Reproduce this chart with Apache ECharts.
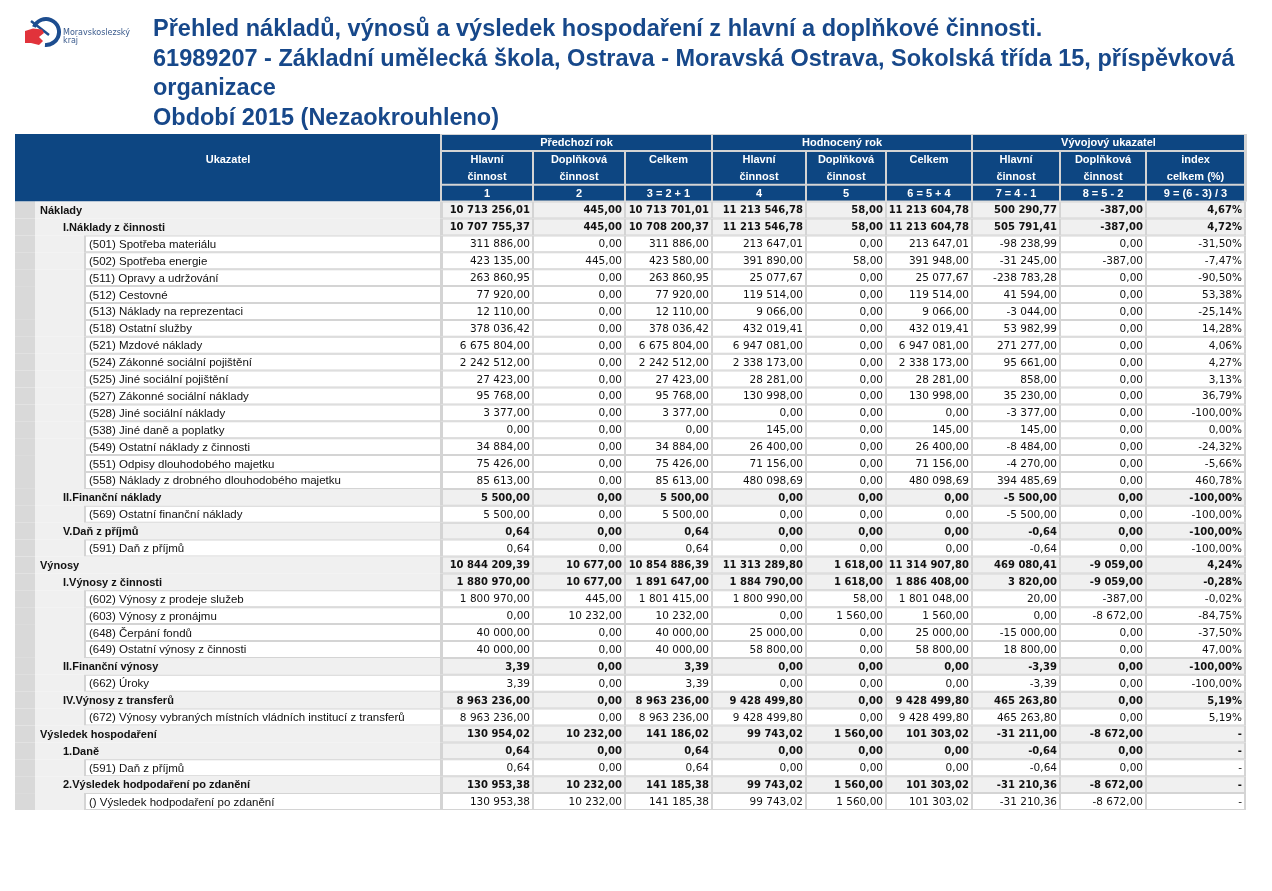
<!DOCTYPE html>
<html><head><meta charset="utf-8">
<script src="https://cdn.jsdelivr.net/npm/echarts@6/dist/echarts.min.js"></script>
<style>html,body{margin:0;padding:0;background:#fff}#c{width:1272px;height:891px}</style>
</head><body><div id="c"></div>
<script>
// ---------- texts ----------
const titleLines = [
  'Přehled nákladů, výnosů a výsledek hospodaření z hlavní a doplňkové činnosti.',
  '61989207 - Základní umělecká škola, Ostrava - Moravská Ostrava, Sokolská třída 15, příspěvková',
  'organizace',
  'Období 2015 (Nezaokrouhleno)'
];
const groupHeaders = ['Předchozí rok', 'Hodnocený rok', 'Vývojový ukazatel'];
const subHeaderTop = ['Hlavní', 'Doplňková', 'Celkem', 'Hlavní', 'Doplňková', 'Celkem', 'Hlavní', 'Doplňková', 'index'];
const subHeaderBottom = ['činnost', 'činnost', '', 'činnost', 'činnost', '', 'činnost', 'činnost', 'celkem (%)'];
const columnNumbers = ['1', '2', '3 = 2 + 1', '4', '5', '6 = 5 + 4', '7 = 4 - 1', '8 = 5 - 2', '9 = (6 - 3) / 3'];

// ---------- rows ----------
const rowLabels = [
  'Náklady', 'I.Náklady z činnosti',
  '(501) Spotřeba materiálu', '(502) Spotřeba energie', '(511) Opravy a udržování', '(512) Cestovné',
  '(513) Náklady na reprezentaci', '(518) Ostatní služby', '(521) Mzdové náklady',
  '(524) Zákonné sociální pojištění', '(525) Jiné sociální pojištění', '(527) Zákonné sociální náklady',
  '(528) Jiné sociální náklady', '(538) Jiné daně a poplatky', '(549) Ostatní náklady z činnosti',
  '(551) Odpisy dlouhodobého majetku', '(558) Náklady z drobného dlouhodobého majetku',
  'II.Finanční náklady', '(569) Ostatní finanční náklady',
  'V.Daň z příjmů', '(591) Daň z příjmů',
  'Výnosy', 'I.Výnosy z činnosti',
  '(602) Výnosy z prodeje služeb', '(603) Výnosy z pronájmu', '(648) Čerpání fondů', '(649) Ostatní výnosy z činnosti',
  'II.Finanční výnosy', '(662) Úroky',
  'IV.Výnosy z transferů', '(672) Výnosy vybraných místních vládních institucí z transferů',
  'Výsledek hospodaření', '1.Daně', '(591) Daň z příjmů',
  '2.Výsledek hodpodaření po zdanění', '() Výsledek hodpodaření po zdanění'
];
const rowLevels = [0,1,2,2,2,2,2,2,2,2,2,2,2,2,2,2,2,1,2,1,2,0,1,2,2,2,2,1,2,1,2,0,1,2,1,2];

const prevMain = [10713256.01,10707755.37,311886.00,423135.00,263860.95,77920.00,12110.00,378036.42,6675804.00,2242512.00,27423.00,95768.00,3377.00,0.00,34884.00,75426.00,85613.00,5500.00,5500.00,0.64,0.64,10844209.39,1880970.00,1800970.00,0.00,40000.00,40000.00,3.39,3.39,8963236.00,8963236.00,130954.02,0.64,0.64,130953.38,130953.38];
const prevSupp = [445.00,445.00,0,445.00,0,0,0,0,0,0,0,0,0,0,0,0,0,0,0,0,0,10677.00,10677.00,445.00,10232.00,0,0,0,0,0,0,10232.00,0,0,10232.00,10232.00];
const prevTotal = [10713701.01,10708200.37,311886.00,423580.00,263860.95,77920.00,12110.00,378036.42,6675804.00,2242512.00,27423.00,95768.00,3377.00,0.00,34884.00,75426.00,85613.00,5500.00,5500.00,0.64,0.64,10854886.39,1891647.00,1801415.00,10232.00,40000.00,40000.00,3.39,3.39,8963236.00,8963236.00,141186.02,0.64,0.64,141185.38,141185.38];
const currMain = [11213546.78,11213546.78,213647.01,391890.00,25077.67,119514.00,9066.00,432019.41,6947081.00,2338173.00,28281.00,130998.00,0.00,145.00,26400.00,71156.00,480098.69,0,0,0,0,11313289.80,1884790.00,1800990.00,0.00,25000.00,58800.00,0,0,9428499.80,9428499.80,99743.02,0,0,99743.02,99743.02];
const currSupp = [58.00,58.00,0,58.00,0,0,0,0,0,0,0,0,0,0,0,0,0,0,0,0,0,1618.00,1618.00,58.00,1560.00,0,0,0,0,0,0,1560.00,0,0,1560.00,1560.00];
const currTotal = [11213604.78,11213604.78,213647.01,391948.00,25077.67,119514.00,9066.00,432019.41,6947081.00,2338173.00,28281.00,130998.00,0.00,145.00,26400.00,71156.00,480098.69,0,0,0,0,11314907.80,1886408.00,1801048.00,1560.00,25000.00,58800.00,0,0,9428499.80,9428499.80,101303.02,0,0,101303.02,101303.02];
const diffMain = [500290.77,505791.41,-98238.99,-31245.00,-238783.28,41594.00,-3044.00,53982.99,271277.00,95661.00,858.00,35230.00,-3377.00,145.00,-8484.00,-4270.00,394485.69,-5500.00,-5500.00,-0.64,-0.64,469080.41,3820.00,20.00,0.00,-15000.00,18800.00,-3.39,-3.39,465263.80,465263.80,-31211.00,-0.64,-0.64,-31210.36,-31210.36];
const diffSupp = [-387.00,-387.00,0,-387.00,0,0,0,0,0,0,0,0,0,0,0,0,0,0,0,0,0,-9059.00,-9059.00,-387.00,-8672.00,0,0,0,0,0,0,-8672.00,0,0,-8672.00,-8672.00];
const indexPct = [4.67,4.72,-31.50,-7.47,-90.50,53.38,-25.14,14.28,4.06,4.27,3.13,36.79,-100.00,0.00,-24.32,-5.66,460.78,-100.00,-100.00,-100.00,-100.00,4.24,-0.28,-0.02,-84.75,-37.50,47.00,-100.00,-100.00,5.19,5.19,null,null,null,null,null];

const valueColumns = [prevMain, prevSupp, prevTotal, currMain, currSupp, currTotal, diffMain, diffSupp, indexPct];

// ---------- layout (pixels on the x value axis) ----------
const TABLE_LEFT = 15, STRIP_RIGHT = 35, LABEL_RIGHT = 441, TABLE_RIGHT = 1246;
const COL_EDGES = [441, 533, 625, 712, 806, 886, 972, 1060, 1146, 1245];
const LABEL_X = [40, 63, 89];
const LEAF_LEFT = 85;
const HEADER_ROWS = 4;

const BLUE = '#0d4682', GRID = '#d4d4d4', ROWGRAY = '#f0f0f0', STRIPGRAY = '#d9d9d9';
const LABEL_FONT = 'Liberation Sans, Arial, sans-serif';
const NUM_FONT = 'DejaVu Sans, Verdana, sans-serif';

function fmt(v) {
  const neg = v < 0;
  const s = Math.abs(v).toFixed(2).split('.');
  const i = s[0].replace(/\B(?=(\d{3})+(?!\d))/g, ' ');
  return (neg ? '-' : '') + i + ',' + s[1];
}
function cellText(col, r) {
  const v = valueColumns[col][r];
  if (col === 8) return v == null ? '-' : fmt(v) + '%';
  return fmt(v);
}

const yCats = [];
for (let i = 0; i < HEADER_ROWS + rowLabels.length; i++) yCats.push('r' + i);

const headerCells = [];
groupHeaders.forEach((g, k) => headerCells.push({c0: k * 3, c1: k * 3 + 3, r0: 0, r1: 1, lines: [g]}));
subHeaderTop.forEach((t, k) => headerCells.push({c0: k, c1: k + 1, r0: 1, r1: 3, lines: [t, subHeaderBottom[k]]}));
columnNumbers.forEach((t, k) => headerCells.push({c0: k, c1: k + 1, r0: 3, r1: 4, lines: [t]}));

const chart = echarts.init(document.getElementById('c'), null, {renderer: 'canvas'});

function rowBounds(api, rowIdx) {
  const yc = api.coord([0, rowIdx])[1];
  const h = api.size([0, 1])[1];
  return [yc - h / 2, yc + h / 2, h];
}
function X(api, px, rowIdx) { return api.coord([px, rowIdx])[0]; }

function renderHeader(params, api) {
  const children = [];
  if (params.dataIndex === 0) {
    const [yt] = rowBounds(api, 0);
    const [, yb] = rowBounds(api, HEADER_ROWS - 1);
    const xl = X(api, TABLE_LEFT, 0), xr = X(api, LABEL_RIGHT, 0), xe = X(api, TABLE_RIGHT + 1, 0);
    children.push({type: 'rect', shape: {x: xr - 1, y: yt, width: xe - xr + 1, height: yb - yt}, style: {fill: GRID}});
    children.push({type: 'rect', shape: {x: xl, y: yt, width: xr - xl - 1, height: yb - yt}, style: {fill: BLUE}});
    children.push({type: 'text', style: {text: 'Ukazatel', x: (xl + xr) / 2, y: yt + (yb - yt) * 0.39, align: 'center', verticalAlign: 'middle',
      fill: '#fff', fontFamily: LABEL_FONT, fontSize: 11, fontWeight: 'bold'}});
    return {type: 'group', children};
  }
  const c = headerCells[params.dataIndex - 1];
  const [yt, , h] = rowBounds(api, c.r0);
  const [, yb] = rowBounds(api, c.r1 - 1);
  const x0 = X(api, COL_EDGES[c.c0], 0), x1 = X(api, COL_EDGES[c.c1], 0);
  children.push({type: 'rect', shape: {x: x0 + 1, y: yt + 1, width: x1 - x0 - 2, height: yb - yt - 2}, style: {fill: BLUE}});
  c.lines.forEach((t, j) => {
    if (!t) return;
    children.push({type: 'text', style: {text: t, x: (x0 + x1) / 2, y: yt + h * (j + 0.5) + 0.5, align: 'center', verticalAlign: 'middle',
      fill: '#fff', fontFamily: LABEL_FONT, fontSize: 11, fontWeight: 'bold'}});
  });
  return {type: 'group', children};
}

function renderRow(params, api) {
  const r = api.value(2);
  const yi = api.value(1);
  const lvl = rowLevels[r];
  const [y0, y1, h] = rowBounds(api, yi);
  const children = [];
  const isBold = lvl < 2;
  const bold = isBold ? 'bold' : 'normal';
  const xs = X(api, TABLE_LEFT, yi), xst = X(api, STRIP_RIGHT, yi), xl = X(api, LABEL_RIGHT, yi), xe = X(api, TABLE_RIGHT, yi);
  children.push({type: 'rect', shape: {x: xs, y: y0, width: xst - xs, height: h}, style: {fill: STRIPGRAY}});
  children.push({type: 'rect', shape: {x: xst, y: y0, width: xl - xst, height: h}, style: {fill: ROWGRAY}});
  if (lvl === 2) {
    const xleaf = X(api, LEAF_LEFT, yi);
    children.push({type: 'rect', shape: {x: xleaf - 1, y: y0, width: xl - xleaf + 1, height: h}, style: {fill: GRID}});
    children.push({type: 'rect', shape: {x: xleaf + 1, y: y0 + 1, width: xl - xleaf - 2, height: h - 2}, style: {fill: '#fff'}});
  }
  children.push({type: 'text', style: {text: rowLabels[r], x: X(api, LABEL_X[lvl], yi), y: (y0 + y1) / 2 + 0.8, align: 'left', verticalAlign: 'middle',
    fill: '#111', fontFamily: LABEL_FONT, fontSize: isBold ? 11 : 11.5, fontWeight: bold}});
  children.push({type: 'rect', shape: {x: xl - 1, y: y0, width: xe - xl + 1, height: h}, style: {fill: GRID}});
  for (let k = 0; k < 9; k++) {
    const x0 = X(api, COL_EDGES[k], yi), x1 = X(api, COL_EDGES[k + 1], yi);
    const left = k === 0 ? x0 + 2 : x0 + 1;
    children.push({type: 'rect', shape: {x: left, y: y0 + 1, width: x1 - 1 - left, height: h - 2}, style: {fill: isBold ? ROWGRAY : '#fff'}});
    children.push({type: 'text', style: {text: cellText(k, r), x: x1 - 3, y: (y0 + y1) / 2 + 0.8, align: 'right', verticalAlign: 'middle',
      fill: '#111', fontFamily: NUM_FONT, fontSize: isBold ? 10 : 10.5, fontWeight: bold}});
  }
  return {type: 'group', children};
}

const headerData = [[0, 0]].concat(headerCells.map(c => [0, c.r0]));
const rowData = rowLabels.map((l, i) => [0, i + HEADER_ROWS, i]);

chart.setOption({
  animation: false,
  title: {
    text: titleLines.join('\n'), left: 153, top: 15, padding: 0,
    textStyle: {color: '#17488a', fontFamily: 'Liberation Sans, Arial, sans-serif', fontSize: 23.5, fontWeight: 'bold', lineHeight: 29.5}
  },
  grid: {left: 0, right: 0, top: 134, bottom: 81},
  xAxis: {type: 'value', min: 0, max: 1272, show: false},
  yAxis: {type: 'category', data: yCats, inverse: true, show: false},
  series: [
    {type: 'custom', renderItem: renderHeader, data: headerData, clip: false, silent: true},
    {type: 'custom', renderItem: renderRow, data: rowData, clip: false, silent: true}
  ],
  graphic: [
    {type: 'sector', shape: {cx: 46, cy: 32, r: 15, r0: 11, startAngle: -2.75, endAngle: 1.65, clockwise: true}, style: {fill: '#1d4d8f'}},
    {type: 'line', shape: {x1: 31, y1: 21, x2: 49, y2: 35}, style: {stroke: '#1d4d8f', lineWidth: 2.5}},
    {type: 'polygon', shape: {points: [[25, 31], [33, 28.5], [42, 29.5], [44, 33], [39, 37], [43, 41], [39, 45], [31, 43], [25, 43]]}, style: {fill: '#e1333b'}},
    {type: 'text', style: {text: 'Moravskoslezský\nkraj', x: 63, y: 29, fill: '#3a5a8c', fontFamily: 'DejaVu Sans, sans-serif', fontSize: 8, lineHeight: 8}}
  ]
});
</script></body></html>
